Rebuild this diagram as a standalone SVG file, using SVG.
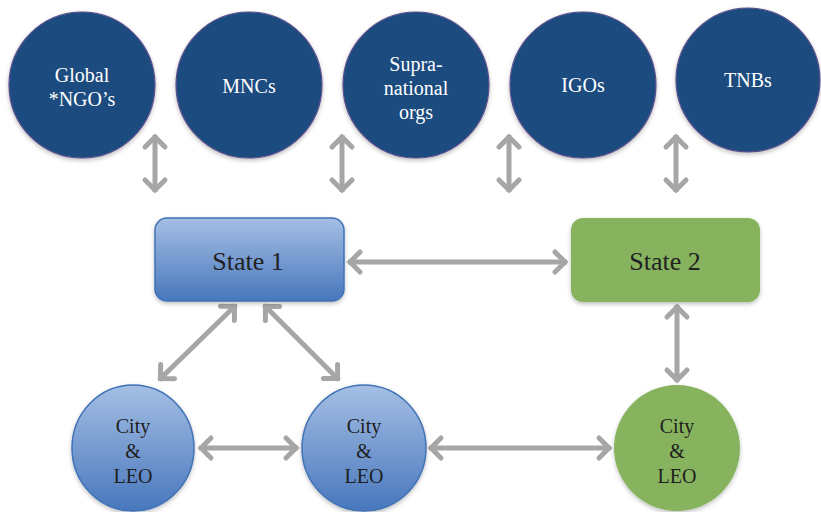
<svg xmlns="http://www.w3.org/2000/svg" width="821" height="512" viewBox="0 0 821 512">
<style>
.top{fill:#1d4c80;stroke:#5b4f8c;stroke-width:1.2;filter:url(#sh)}
.tt{font-family:"Liberation Serif","DejaVu Serif",serif;font-size:20px;fill:#ffffff;text-anchor:middle}
.dt{font-family:"Liberation Serif","DejaVu Serif",serif;font-size:20px;fill:#1e1e1e;text-anchor:middle}
.st{font-family:"Liberation Serif","DejaVu Serif",serif;font-size:26px;fill:#222222;text-anchor:middle}
.blue{fill:url(#bg);stroke:#3f72b6;stroke-width:1.5;filter:url(#sh)}
.green{fill:#87b35e;filter:url(#sh)}
.con line{stroke:#a6a6a6;stroke-width:5;marker-start:url(#ah);marker-end:url(#ah)}
</style>
<defs>
<linearGradient id="bg" x1="0" y1="0" x2="0" y2="1">
<stop offset="0" stop-color="#a5bfe4"/>
<stop offset="1" stop-color="#4877bd"/>
</linearGradient>
<filter id="sh" x="-20%" y="-20%" width="140%" height="140%">
<feDropShadow dx="0" dy="2" stdDeviation="2" flood-color="#000" flood-opacity="0.25"/>
</filter>
<marker id="ah" markerUnits="userSpaceOnUse" markerWidth="30" markerHeight="30" viewBox="-15 -15 30 30" refX="2" refY="0" orient="auto-start-reverse" overflow="visible">
<path d="M-10,-10 L0,0 L-10,10" fill="none" stroke="#a6a6a6" stroke-width="5" stroke-linecap="round"/>
</marker>
</defs>

<g id="connectors" class="con">
<line x1="155" y1="135" x2="155" y2="192"/>
<line x1="342" y1="135" x2="342" y2="192"/>
<line x1="509" y1="135" x2="509" y2="192"/>
<line x1="676" y1="135" x2="676" y2="192"/>
<line x1="348" y1="262" x2="567" y2="262"/>
<line x1="236" y1="305" x2="159" y2="380"/>
<line x1="264" y1="305" x2="339" y2="380"/>
<line x1="677" y1="305" x2="677" y2="382"/>
<line x1="199" y1="448" x2="298" y2="448"/>
<line x1="429" y1="448" x2="611" y2="448"/>
</g>

<g id="global-ngos">
<circle class="top" cx="82" cy="85" r="73"/>
<text class="tt" x="82" y="82">Global</text>
<text class="tt" x="82" y="106">*NGO’s</text>
</g>
<g id="mncs">
<circle class="top" cx="249" cy="85" r="73"/>
<text class="tt" x="249" y="93">MNCs</text>
</g>
<g id="supranational">
<circle class="top" cx="416" cy="85" r="73"/>
<text class="tt" x="416" y="71">Supra-</text>
<text class="tt" x="416" y="95">national</text>
<text class="tt" x="416" y="119">orgs</text>
</g>
<g id="igos">
<circle class="top" cx="583" cy="85" r="73"/>
<text class="tt" x="583" y="92">IGOs</text>
</g>
<g id="tnbs">
<circle class="top" cx="748" cy="80" r="72"/>
<text class="tt" x="748" y="87">TNBs</text>
</g>

<g id="state1">
<rect class="blue" x="155" y="218" width="189" height="83" rx="12"/>
<text class="st" x="248" y="270">State 1</text>
</g>
<g id="state2">
<rect class="green" x="571" y="218" width="189" height="84" rx="12"/>
<text class="st" x="665" y="270">State 2</text>
</g>

<g id="city1">
<ellipse class="blue" cx="133" cy="448" rx="61" ry="63"/>
<text class="dt" x="133" y="433">City</text>
<text class="dt" x="133" y="458">&amp;</text>
<text class="dt" x="133" y="483">LEO</text>
</g>
<g id="city2">
<ellipse class="blue" cx="364" cy="448" rx="62" ry="63"/>
<text class="dt" x="364" y="433">City</text>
<text class="dt" x="364" y="458">&amp;</text>
<text class="dt" x="364" y="483">LEO</text>
</g>
<g id="city3">
<ellipse class="green" cx="677" cy="448" rx="63" ry="63"/>
<text class="dt" x="677" y="433">City</text>
<text class="dt" x="677" y="458">&amp;</text>
<text class="dt" x="677" y="483">LEO</text>
</g>
</svg>
